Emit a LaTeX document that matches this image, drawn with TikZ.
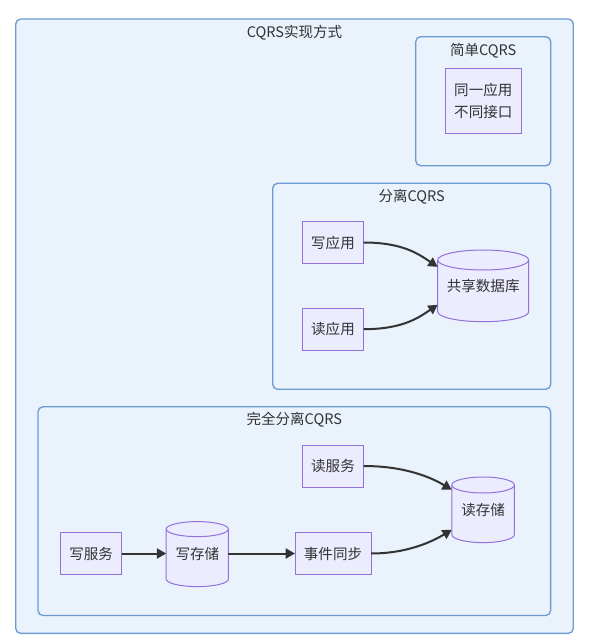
\documentclass[tikz,border=0pt]{standalone}
\usepackage{fontspec}
\setmainfont{Noto Sans CJK SC}
\usetikzlibrary{arrows.meta,calc}
\pgfdeclarelayer{bg}
\pgfdeclarelayer{cyl}
\pgfsetlayers{bg,cyl,main}
\definecolor{clfill}{HTML}{EAF2FC}
\definecolor{cldraw}{HTML}{6C9AD3}
\definecolor{ndfill}{HTML}{ECECFF}
\definecolor{nddraw}{HTML}{9370DB}
\definecolor{txt}{HTML}{333333}
\newcommand\drawcyl[3]{%
\begin{pgfonlayer}{cyl}
\draw[cylbody] ($(#1.north west)+(0,#3)$) -- ($(#1.south west)+(0,-#3)$)
  arc[start angle=180,end angle=360,x radius=#2*0.75pt,y radius=#3*0.75pt]
  -- ($(#1.north east)+(0,#3)$)
  arc[start angle=0,end angle=180,x radius=#2*0.75pt,y radius=#3*0.75pt] -- cycle;
\draw[cylbody,fill=none] ($(#1.north west)+(0,#3)$)
  arc[start angle=180,end angle=360,x radius=#2*0.75pt,y radius=#3*0.75pt];
\end{pgfonlayer}}
\tikzset{
  sz/.style 2 args={minimum width=#1*0.75pt,minimum height=#2*0.75pt},
  cluster/.style={draw=cldraw,fill=clfill,line width=1pt,rounded corners=3.75pt,inner sep=0pt,outer sep=0pt},
  ctitle/.style={text=txt,font=\fontsize{10.9}{14}\selectfont,inner sep=0pt},
  proc/.style={draw=nddraw,fill=ndfill,line width=0.75pt,text=txt,font=\fontsize{10.9}{14}\selectfont,inner sep=0pt,outer sep=0pt,align=center},
  store/.style={text=txt,font=\fontsize{10.9}{14}\selectfont,inner sep=0pt,outer sep=0pt},
  cylbody/.style={draw=nddraw,fill=ndfill,line width=0.75pt},
  arr/.style={draw=txt,line width=1.5pt,-{Triangle[length=7pt,width=7.5pt]}},
}
\begin{document}
\begin{tikzpicture}[x=0.75pt,y=-0.75pt]
\useasboundingbox (0,0) rectangle (596,642);
\begin{pgfonlayer}{bg}
\node[cluster,sz={557.6}{614.3}] (outer) at (294.5,326.2) {};
\node[cluster,sz={135}{129}] (simple) at (483.2,101.2) {};
\node[cluster,sz={278}{206}] (sep) at (411.7,286.3) {};
\node[cluster,sz={512.6}{208.7}] (full) at (294.3,511.15) {};
\end{pgfonlayer}
\node[ctitle] (t0) at ([yshift=-13.3*0.75pt]outer.north) {CQRS实现方式};
\node[ctitle] (t1) at ([yshift=-13.8*0.75pt]simple.north) {简单CQRS};
\node[ctitle] (t2) at ([yshift=-13*0.75pt]sep.north) {分离CQRS};
\node[ctitle] (t3) at ([yshift=-13.3*0.75pt]full.north) {完全分离CQRS};

\node[proc,sz={76}{65.4}] (same) at (483.3,101) {同一应用\\[2pt]不同接口};

\node[proc,sz={61.4}{41.6}] (wa) at (333,242.5) {写应用};
\node[proc,sz={61.4}{41.7}] (ra) at (333,329.2) {读应用};
\node[store,sz={91}{71.7}] (db) at (483.2,285.85) {共享数据库};
\drawcyl{db}{45.5}{10}

\node[proc,sz={61.2}{42}] (rsv) at (333,466) {读服务};
\node[proc,sz={61.5}{42.5}] (wsv) at (91.15,553.5) {写服务};
\node[store,sz={62.2}{65}] (ws) at (197.3,554.1) {写存储};
\drawcyl{ws}{31.1}{7.5}
\node[proc,sz={76}{42.5}] (ev) at (333,553.5) {事件同步};
\node[store,sz={62.6}{65.6}] (rs) at (483.1,509.8) {读存储};
\drawcyl{rs}{31.3}{8}

\draw[arr] (wa.east) .. controls +(40,0) and +(-18,-12) .. ([yshift=19*0.75pt]db.west);
\draw[arr] (ra.east) .. controls +(40,0) and +(-18,12) .. ([yshift=-19*0.75pt]db.west);
\draw[arr] (rsv.east) .. controls +(42,0) and +(-20,-12) .. ([yshift=20*0.75pt]rs.west);
\draw[arr] (ev.east) .. controls +(36,0) and +(-20,12) .. ([yshift=-20*0.75pt]rs.west);
\draw[arr] (wsv.east) -- (wsv.east -| ws.west);
\draw[arr] (ws.east |- ev.west) -- (ev.west);
\end{tikzpicture}
\end{document}
